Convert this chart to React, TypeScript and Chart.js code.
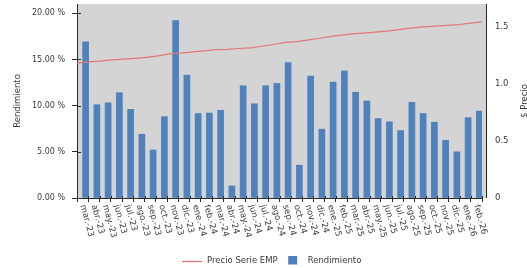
import React, { useEffect, useRef } from "react";
import { Chart, registerables } from "chart.js";

Chart.register(...registerables);

const categories = [
  "mar.-23", "abr.-23", "may.-23", "jun.-23", "jul.-23", "ago.-23", "sep.-23", "oct.-23", "nov.-23", "dic.-23",
  "ene.-24", "feb.-24", "mar.-24", "abr.-24", "may.-24", "jun.-24", "jul.-24", "ago.-24", "sep.-24", "oct.-24", "nov.-24", "dic.-24",
  "ene.-25", "feb.-25", "mar.-25", "abr.-25", "may.-25", "jun.-25", "jul.-25", "ago.-25", "sep.-25", "oct.-25", "nov.-25", "dic.-25",
  "ene.-26", "feb.-26",
];

const rendimiento = [
  16.9, 10.1, 10.3, 11.4, 9.6, 6.9, 5.2, 8.8, 19.2, 13.3,
  9.15, 9.2, 9.5, 1.3, 12.15, 10.2, 12.15, 12.4, 14.65, 3.55, 13.2, 7.45,
  12.55, 13.75, 11.45, 10.5, 8.6, 8.25, 7.3, 10.35, 9.15, 8.2, 6.25, 5.0,
  8.7, 9.4,
];

const precio = [
  1.182, 1.193, 1.2, 1.21, 1.217, 1.224, 1.232, 1.245, 1.263, 1.27,
  1.28, 1.29, 1.3, 1.303, 1.31, 1.315, 1.33, 1.345, 1.364, 1.37, 1.386, 1.4,
  1.417, 1.43, 1.44, 1.447, 1.456, 1.465, 1.478, 1.49, 1.5, 1.506, 1.513, 1.52,
  1.532, 1.544,
];

const leftTicks = [0, 5, 10, 15, 20];
const rightTicks = [0, 0.5, 1, 1.5];

const FONT = "'DejaVu Sans', sans-serif";
const TEXT = "#3a3a3a";
const AXIS = "#2a2a2a";
const BAR = "#4F81BD";
const LINE = "#E07878";
const PLOT_BG = "#D4D4D4";

const decorPlugin = {
  id: "decor",
  beforeDraw(chart: any) {
    const { ctx, chartArea } = chart;
    ctx.save();
    ctx.fillStyle = PLOT_BG;
    ctx.fillRect(chartArea.left, chartArea.top, chartArea.right + 4 - chartArea.left, chartArea.bottom - chartArea.top);
    ctx.strokeStyle = AXIS;
    ctx.lineWidth = 1;
    ctx.beginPath();
    ctx.moveTo(chartArea.right + 4.5, chartArea.top);
    ctx.lineTo(chartArea.right + 4.5, chartArea.bottom);
    ctx.stroke();
    ctx.restore();
  },
  afterDraw(chart: any) {
    const { ctx, chartArea } = chart;
    const xs = chart.scales.x;
    const ys = chart.scales.y;
    ctx.save();
    // inner tick marks
    ctx.strokeStyle = AXIS;
    ctx.lineWidth = 1;
    ctx.beginPath();
    ys.ticks.forEach((t: any) => {
      const py = Math.round(ys.getPixelForValue(t.value)) + 0.5;
      ctx.moveTo(chartArea.left, py);
      ctx.lineTo(chartArea.left + 4, py);
    });
    for (let i = 0; i <= categories.length; i++) {
      const px = Math.round(xs.getPixelForValue(i - 0.5)) + 0.5;
      ctx.moveTo(px, chartArea.bottom);
      ctx.lineTo(px, chartArea.bottom - 2);
    }
    ctx.stroke();

    // x labels rotated clockwise
    ctx.fillStyle = TEXT;
    ctx.font = `8.5px ${FONT}`;
    ctx.textAlign = "left";
    ctx.textBaseline = "middle";
    categories.forEach((lab, i) => {
      const px = xs.getPixelForTick(i);
      ctx.save();
      ctx.translate(px, chartArea.bottom + 7);
      ctx.rotate((75 * Math.PI) / 180);
      ctx.fillText(lab, 0, 0);
      ctx.restore();
    });

    // right axis title
    ctx.save();
    ctx.translate(525, (chartArea.top + chartArea.bottom) / 2);
    ctx.rotate(-Math.PI / 2);
    ctx.textAlign = "center";
    ctx.textBaseline = "middle";
    ctx.font = `8.5px ${FONT}`;
    ctx.fillText("$ Precio", 0, 0);
    ctx.restore();

    // legend
    const ly = 261;
    ctx.font = `8.5px ${FONT}`;
    ctx.textAlign = "left";
    ctx.textBaseline = "middle";
    let x = 182;
    ctx.strokeStyle = LINE;
    ctx.lineWidth = 1.3;
    ctx.beginPath();
    ctx.moveTo(x, ly + 0.5);
    ctx.lineTo(x + 20, ly + 0.5);
    ctx.stroke();
    x += 25;
    const l1 = chart.data.datasets[0].label;
    ctx.fillStyle = TEXT;
    ctx.fillText(l1, x, ly);
    x += ctx.measureText(l1).width + 10.5;
    ctx.fillStyle = BAR;
    ctx.fillRect(x, ly - 5, 9, 8.5);
    x += 19.5;
    ctx.fillStyle = TEXT;
    ctx.fillText(chart.data.datasets[1].label, x, ly);
    ctx.restore();
  },
};

export default function App() {
  const ref = useRef<HTMLCanvasElement | null>(null);

  useEffect(() => {
    if (!ref.current) return;
    const chart = new Chart(ref.current, {
      type: "bar",
      data: {
        labels: categories,
        datasets: [
          {
            type: "line",
            label: "Precio Serie EMP",
            data: precio,
            xAxisID: "x2",
            yAxisID: "y1",
            borderColor: LINE,
            borderWidth: 1.2,
            pointRadius: 0,
            tension: 0,
            order: 0,
          } as any,
          {
            type: "bar",
            label: "Rendimiento",
            data: rendimiento,
            xAxisID: "x",
            yAxisID: "y",
            backgroundColor: BAR,
            borderWidth: 0,
            barThickness: 6,
            order: 1,
          },
        ],
      },
      options: {
        animation: false,
        responsive: true,
        maintainAspectRatio: false,
        layout: { padding: { top: 4, bottom: 66, left: 0, right: 0 } },
        plugins: { legend: { display: false }, tooltip: { enabled: false } },
        scales: {
          x: {
            type: "category",
            offset: true,
            grid: { offset: true, drawOnChartArea: false, tickLength: 4, color: AXIS },
            border: { display: true, color: AXIS },
            ticks: { display: false },
          },
          x2: {
            type: "category",
            labels: categories,
            offset: false,
            display: false,
          },
          y: {
            position: "left",
            min: 0,
            max: 21,
            afterFit: (s: any) => { s.width = 77; s.paddingTop = 0; s.paddingBottom = 0; },
            afterBuildTicks: (s: any) => { s.ticks = leftTicks.map((v) => ({ value: v })); },
            grid: { drawOnChartArea: false, tickLength: 5, color: AXIS },
            border: { display: true, color: AXIS },
            ticks: {
              color: TEXT,
              font: { family: FONT, size: 8 },
              padding: 7,
              callback: (v: any) => Number(v).toFixed(2) + " %",
            },
            title: {
              display: true,
              text: "Rendimiento",
              color: TEXT,
              font: { family: FONT, size: 8.5 },
              padding: { top: 13, bottom: 0 },
            },
          },
          y1: {
            position: "right",
            min: 0,
            max: 1.7,
            afterFit: (s: any) => { s.width = 45; s.paddingTop = 0; s.paddingBottom = 0; },
            afterBuildTicks: (s: any) => { s.ticks = rightTicks.map((v) => ({ value: v })); },
            grid: { display: false, drawTicks: false },
            border: { display: false },
            ticks: {
              color: TEXT,
              font: { family: FONT, size: 8.5 },
              padding: 13,
            },
          },
        },
      },
      plugins: [decorPlugin],
    });
    return () => chart.destroy();
  }, []);

  return (
    <div style={{ position: "fixed", left: 0, top: 0, width: 527, height: 268 }}>
      <canvas ref={ref} />
    </div>
  );
}
